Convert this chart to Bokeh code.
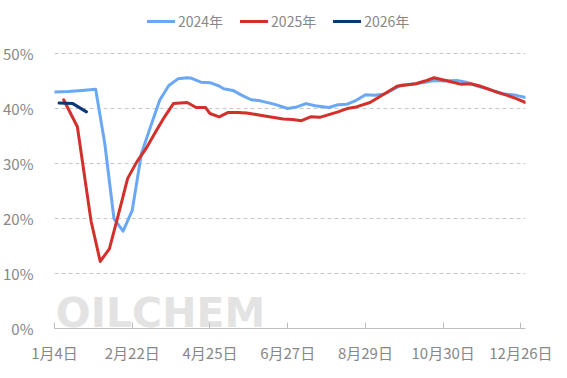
from bokeh.plotting import figure
from bokeh.models import Range1d, FixedTicker, Legend, LegendItem, Label
from bokeh.embed import file_html
from bokeh.resources import INLINE

# ---- data ----
x_tick_pos = [0, 17, 34, 51, 68, 85, 102]
x_tick_labels = ["1月4日", "2月22日", "4月25日", "6月27日", "8月29日", "10月30日", "12月26日"]
y_ticks = [0, 10, 20, 30, 40, 50]
y_tick_labels = ["0%", "10%", "20%", "30%", "40%", "50%"]

series_names = ["2024年", "2025年", "2026年"]

x_2024 = [0, 3, 6, 9, 11, 13, 15, 17, 19, 21, 23, 25, 27, 29, 30, 32, 34, 36, 37, 39,
          41, 43, 45, 48, 51, 53, 55, 57, 60, 62, 64, 66, 68, 70, 72, 73, 75, 76, 79, 81,
          83, 85, 88, 90, 92, 95, 98, 101, 103]
y_2024 = [43.0, 43.1, 43.3, 43.5, 33.6, 20.0, 17.7, 21.5, 31.8, 36.7, 41.5, 44.2, 45.4, 45.6, 45.5, 44.8, 44.7, 44.1, 43.6, 43.3,
          42.4, 41.6, 41.4, 40.8, 40.0, 40.3, 40.9, 40.5, 40.2, 40.7, 40.8, 41.5, 42.5, 42.4, 42.6, 43.0, 43.9, 44.3, 44.5, 44.8,
          45.1, 45.0, 45.1, 44.8, 44.2, 43.5, 42.7, 42.4, 42.0]

x_2025 = [2, 5, 8, 10, 12, 14, 16, 18, 20, 22, 24, 26, 29, 31, 33, 34, 36, 38, 40, 42,
          45, 47, 50, 52, 54, 56, 58, 60, 62, 64, 66, 69, 72, 75, 77, 79, 81, 83, 86, 89,
          91, 93, 96, 99, 101, 103]
y_2025 = [41.6, 36.7, 19.5, 12.2, 14.5, 20.8, 27.3, 30.3, 32.7, 35.6, 38.4, 40.9, 41.1, 40.2, 40.2, 39.1, 38.5, 39.3, 39.3, 39.2,
          38.8, 38.5, 38.1, 38.0, 37.8, 38.5, 38.4, 38.9, 39.4, 40.0, 40.3, 41.1, 42.6, 44.1, 44.3, 44.5, 45.0, 45.6, 45.0, 44.4,
          44.5, 44.1, 43.2, 42.4, 41.8, 41.1]

x_2026 = [1, 4, 7]
y_2026 = [41.0, 40.9, 39.4]

colors = ["#6aa8f6", "#d2302a", "#0b3677"]
FONT = "Noto Sans CJK SC"
TXT = "#878787"

# frame reaches the top of the canvas so the legend (drawn inside it) is not clipped;
# the y range top is chosen so that 50% sits where the reference puts it
p = figure(width=567, height=378, output_backend="svg", toolbar_location=None,
           x_range=Range1d(0, 103), y_range=Range1d(0, 59.65),
           min_border_left=52, min_border_right=42, min_border_top=0, min_border_bottom=50)
p.outline_line_color = None
p.background_fill_color = "white"
p.border_fill_color = "white"

# axes
p.xaxis.ticker = FixedTicker(ticks=x_tick_pos)
p.xaxis.major_label_overrides = {t: l for t, l in zip(x_tick_pos, x_tick_labels)}
p.xaxis.axis_line_color = "#bdbdbd"
p.xaxis.major_tick_line_color = "#bdbdbd"
p.xaxis.major_tick_in = 6
p.xaxis.major_tick_out = 0
p.xaxis.minor_tick_line_color = None
p.xaxis.major_label_standoff = 13
p.xaxis.major_label_text_font = FONT
p.xaxis.major_label_text_font_size = "15px"
p.xaxis.major_label_text_color = TXT

p.yaxis.ticker = FixedTicker(ticks=y_ticks)
p.yaxis.major_label_overrides = {t: l for t, l in zip(y_ticks, y_tick_labels)}
p.yaxis.axis_line_color = None
p.yaxis.major_tick_line_color = None
p.yaxis.minor_tick_line_color = None
p.yaxis.major_label_standoff = 15
p.yaxis.major_label_text_font = FONT
p.yaxis.major_label_text_font_size = "15px"
p.yaxis.major_label_text_color = TXT

p.xgrid.grid_line_color = None
p.ygrid.grid_line_color = "#c8c8c8"
p.ygrid.grid_line_dash = "4 3"

# watermark (kept inside the plotting frame)
wm = Label(x=0.3, y=2.8, text="OILCHEM", text_font="DejaVu Sans", text_font_style="bold",
           text_font_size="41px", text_color="#e3e3e3", text_baseline="alphabetic", text_align="left",
           level="underlay")
p.add_layout(wm)

renderers = []
for xs, ys, c in [(x_2024, y_2024, colors[0]), (x_2025, y_2025, colors[1]), (x_2026, y_2026, colors[2])]:
    r = p.line(xs, ys, line_color=c, line_width=3, line_join="round", line_cap="round")
    renderers.append(r)

legend = Legend(items=[LegendItem(label=n, renderers=[r]) for n, r in zip(series_names, renderers)],
                orientation="horizontal", location=(93, 296),
                glyph_width=28, glyph_height=22, label_height=22, label_standoff=3, spacing=17,
                padding=0, margin=0, border_line_color=None, background_fill_alpha=0,
                label_text_font=FONT, label_text_font_size="14px", label_text_color=TXT)
p.add_layout(legend)

open("out.html", "w").write(file_html(p, INLINE))
